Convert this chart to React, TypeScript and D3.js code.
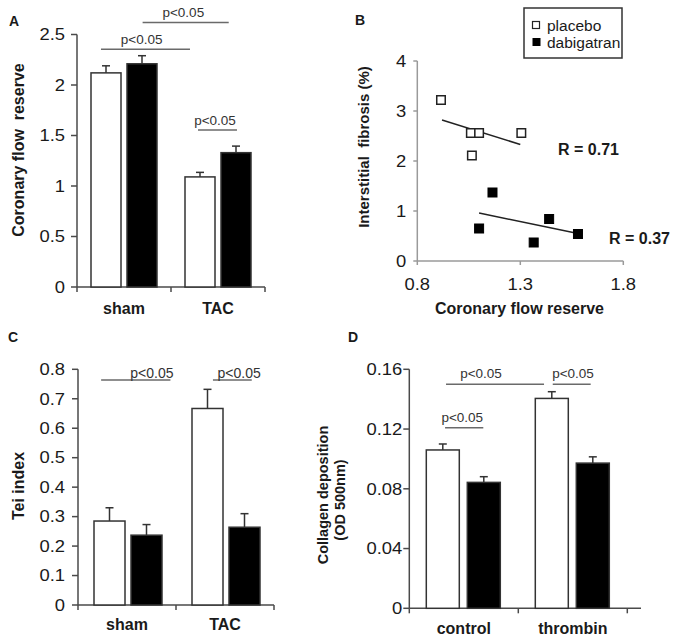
import React from 'react';
import * as d3 from 'd3';

const FONT = '"Liberation Sans", Arial, Helvetica, sans-serif';

// ---------- Panel A: Coronary flow reserve ----------
const aCategories = ['sham', 'TAC'];
const aPlacebo = [2.12, 1.09];
const aPlaceboErr = [0.07, 0.045];
const aDabi = [2.21, 1.33];
const aDabiErr = [0.08, 0.065];
const aTicks = [0, 0.5, 1, 1.5, 2, 2.5];
// brackets: x in category units, y in data units, tx = text centre
const aSigX1 = [0.255, 0.698, 1.287];
const aSigX2 = [1.202, 1.614, 1.702];
const aSigY = [2.355, 2.62, 1.555];
const aSigTx = [0.688, 1.131, 1.468];

// ---------- Panel B: scatter ----------
const bPlaceboX = [0.915, 1.06, 1.1, 1.065, 1.305];
const bPlaceboY = [3.22, 2.56, 2.56, 2.11, 2.56];
const bDabiX = [1.165, 1.1, 1.44, 1.365, 1.58];
const bDabiY = [1.37, 0.65, 0.84, 0.37, 0.54];
const bPlaceboFitX = [0.92, 1.3];
const bPlaceboFitY = [2.82, 2.33];
const bDabiFitX = [1.1, 1.58];
const bDabiFitY = [0.96, 0.55];
const bXTicks = [0.8, 1.3, 1.8];
const bYTicks = [0, 1, 2, 3, 4];
const bRLabels = ['R = 0.71', 'R = 0.37'];
const seriesNames = ['placebo', 'dabigatran'];

// ---------- Panel C: Tei index ----------
const cCategories = ['sham', 'TAC'];
const cPlacebo = [0.285, 0.667];
const cPlaceboErr = [0.045, 0.065];
const cDabi = [0.237, 0.264];
const cDabiErr = [0.036, 0.046];
const cTicks = [0, 0.1, 0.2, 0.3, 0.4, 0.5, 0.6, 0.7, 0.8];
const cSigX1 = [0.236, 1.377];
const cSigX2 = [0.943, 1.773];
const cSigY = [0.764, 0.764];
const cSigTx = [0.754, 1.644];

// ---------- Panel D: Collagen deposition ----------
const dCategories = ['control', 'thrombin'];
const dPlacebo = [0.106, 0.1405];
const dPlaceboErr = [0.004, 0.0045];
const dDabi = [0.0843, 0.0972];
const dDabiErr = [0.0038, 0.0042];
const dTicks = [0, 0.04, 0.08, 0.12, 0.16];
const dSigX1 = [0.337, 1.316, 0.328];
const dSigX2 = [1.236, 1.664, 0.679];
const dSigY = [0.15, 0.15, 0.1209];
const dSigTx = [0.658, 1.502, 0.486];

const AXIS = '#4a4a4a';
const TEXT = '#1a1a1a';
const SIG = '#6a6a6a';
const STRETCH = 1.15;

function TickText(props: { x: number; y: number; anchor: string; dy?: string; children: React.ReactNode }) {
  return (
    <g transform={`translate(${props.x},${props.y}) scale(${STRETCH},1)`}>
      <text x={0} y={0} dy={props.dy} textAnchor={props.anchor} fontSize={16} fill={TEXT} fontFamily={FONT}>
        {props.children}
      </text>
    </g>
  );
}

type BarPanelProps = {
  categories: string[];
  placebo: number[];
  placeboErr: number[];
  dabi: number[];
  dabiErr: number[];
  ticks: number[];
  tickFmt: (v: number) => string;
  yMax: number;
  x0: number;
  x1: number;
  axisEnd: number;
  y0: number;
  y1: number;
  inner: [number, number];
  paddingInner: number;
  sigX1: number[];
  sigX2: number[];
  sigY: number[];
  sigTx: number[];
  sigGap: number;
  sigSize: number;
  catBaseline: number;
  tickLabelGap: number;
};

function BarPanel(p: BarPanelProps) {
  const y = d3.scaleLinear().domain([0, p.yMax]).range([p.y0, p.y1]);
  const xb = d3.scaleBand<string>().domain(p.categories).range([p.x0, p.x1]);
  const xs = d3
    .scaleBand<string>()
    .domain(seriesNames)
    .range(p.inner)
    .paddingInner(p.paddingInner)
    .paddingOuter(0);
  const xu = d3.scaleLinear().domain([0, p.categories.length]).range([p.x0, p.x1]);
  const tickXs = d3.range(p.categories.length + 1).map((i) => xu(i));
  const bars: { x: number; v: number; e: number; fill: string }[] = [];
  p.categories.forEach((c, i) => {
    bars.push({ x: (xb(c) as number) + (xs('placebo') as number), v: p.placebo[i], e: p.placeboErr[i], fill: '#fff' });
    bars.push({ x: (xb(c) as number) + (xs('dabigatran') as number), v: p.dabi[i], e: p.dabiErr[i], fill: '#000' });
  });
  const bw = xs.bandwidth();
  return (
    <g>
      {/* y axis */}
      <line x1={p.x0} x2={p.x0} y1={y(0)} y2={y(p.yMax)} stroke={AXIS} strokeWidth={1.5} />
      {p.ticks.map((t) => (
        <g key={t}>
          <line x1={p.x0 - 6} x2={p.x0} y1={y(t)} y2={y(t)} stroke={AXIS} strokeWidth={1.5} />
          <TickText x={p.x0 - p.tickLabelGap} y={y(t)} dy="0.36em" anchor="end">
            {p.tickFmt(t)}
          </TickText>
        </g>
      ))}
      {/* x axis */}
      <line x1={p.x0} x2={p.axisEnd} y1={y(0)} y2={y(0)} stroke={AXIS} strokeWidth={1.5} />
      {tickXs.map((tx, i) => (
        <line key={i} x1={tx} x2={tx} y1={y(0)} y2={y(0) + 5} stroke={AXIS} strokeWidth={1.5} />
      ))}
      {/* bars */}
      {bars.map((b, i) => (
        <g key={i}>
          <line x1={b.x + bw / 2} x2={b.x + bw / 2} y1={y(b.v)} y2={y(b.v + b.e)} stroke="#333" strokeWidth={1.5} />
          <line x1={b.x + bw / 2 - 4} x2={b.x + bw / 2 + 4} y1={y(b.v + b.e)} y2={y(b.v + b.e)} stroke="#333" strokeWidth={1.5} />
          <rect x={b.x} y={y(b.v)} width={bw} height={y(0) - y(b.v)} fill={b.fill} stroke="#333" strokeWidth={1.5} />
        </g>
      ))}
      {/* significance */}
      {p.sigY.map((sy, i) => (
        <g key={i}>
          <line x1={xu(p.sigX1[i])} x2={xu(p.sigX2[i])} y1={y(sy)} y2={y(sy)} stroke={SIG} strokeWidth={1.5} />
          <text x={xu(p.sigTx[i])} y={y(sy) - p.sigGap} textAnchor="middle" fontSize={p.sigSize} fill="#333" fontFamily={FONT}>
            p&lt;0.05
          </text>
        </g>
      ))}
      {/* categories */}
      {p.categories.map((c) => (
        <text key={c} x={(xb(c) as number) + xb.bandwidth() / 2} y={p.catBaseline} textAnchor="middle" fontSize={16} fontWeight="bold" fill={TEXT} fontFamily={FONT}>
          {c}
        </text>
      ))}
    </g>
  );
}

function ScatterPanel() {
  const x = d3.scaleLinear().domain([0.8, 1.8]).range([417.3, 623.3]);
  const y = d3.scaleLinear().domain([0, 4]).range([261, 61]);
  const line = d3
    .line<[number, number]>()
    .x((d) => x(d[0]))
    .y((d) => y(d[1]));
  const pFit = bPlaceboFitX.map((v, i) => [v, bPlaceboFitY[i]] as [number, number]);
  const dFit = bDabiFitX.map((v, i) => [v, bDabiFitY[i]] as [number, number]);
  const B_AXIS = '#9a9a9a';
  const s = 8.5;
  return (
    <g>
      <line x1={x(0.8)} x2={x(0.8)} y1={y(0)} y2={y(4)} stroke={B_AXIS} strokeWidth={1.5} />
      {bYTicks.map((t) => (
        <g key={t}>
          <line x1={x(0.8) - 4} x2={x(0.8)} y1={y(t)} y2={y(t)} stroke={B_AXIS} strokeWidth={1.5} />
          <TickText x={x(0.8) - 11} y={y(t)} dy="0.36em" anchor="end">
            {t}
          </TickText>
        </g>
      ))}
      <line x1={x(0.8)} x2={x(1.8)} y1={y(0)} y2={y(0)} stroke={B_AXIS} strokeWidth={1.5} />
      {bXTicks.map((t) => (
        <g key={t}>
          <line x1={x(t)} x2={x(t)} y1={y(0)} y2={y(0) + 4} stroke={B_AXIS} strokeWidth={1.5} />
          <TickText x={x(t)} y={y(0) + 29} anchor="middle">
            {t}
          </TickText>
        </g>
      ))}
      <path d={line(pFit) || ''} stroke="#222" strokeWidth={1.5} fill="none" />
      <path d={line(dFit) || ''} stroke="#222" strokeWidth={1.5} fill="none" />
      {bPlaceboX.map((v, i) => (
        <rect key={'p' + i} x={x(v) - s / 2} y={y(bPlaceboY[i]) - s / 2} width={s} height={s} fill="#fff" stroke="#222" strokeWidth={1.5} />
      ))}
      {bDabiX.map((v, i) => (
        <rect key={'d' + i} x={x(v) - 4.5} y={y(bDabiY[i]) - 4.5} width={9} height={9} fill="#000" stroke="#000" strokeWidth={1} />
      ))}
      <text x={558} y={154.5} fontSize={16} fontWeight="bold" fill={TEXT} fontFamily={FONT}>
        {bRLabels[0]}
      </text>
      <text x={609} y={243.5} fontSize={16} fontWeight="bold" fill={TEXT} fontFamily={FONT}>
        {bRLabels[1]}
      </text>
      {/* legend */}
      <defs>
        <clipPath id="legclip">
          <rect x={524} y={8} width={98} height={50} />
        </clipPath>
      </defs>
      <rect x={524} y={8} width={98} height={50} fill="#fff" stroke="#333" strokeWidth={1.5} />
      <g clipPath="url(#legclip)">
        <rect x={532.5} y={21.5} width={7} height={7} fill="#fff" stroke="#222" strokeWidth={1.2} />
        <rect x={532.5} y={38} width={8} height={8} fill="#000" />
        <text x={547} y={25} dy="0.36em" fontSize={15.5} fill={TEXT} fontFamily={FONT}>
          {seriesNames[0]}
        </text>
        <text x={547} y={42} dy="0.36em" fontSize={15.5} fill={TEXT} fontFamily={FONT}>
          {seriesNames[1]}
        </text>
      </g>
      <text transform="translate(369,147) rotate(-90)" textAnchor="middle" fontSize={15} fontWeight="bold" fill={TEXT} fontFamily={FONT} style={{ whiteSpace: 'pre' }}>
        {'Interstitial  fibrosis (%)'}
      </text>
      <text x={519.5} y={314} textAnchor="middle" fontSize={16} fontWeight="bold" fill={TEXT} fontFamily={FONT}>
        Coronary flow reserve
      </text>
    </g>
  );
}

const fmt1 = (v: number) => (v === 0 ? '0' : d3.format('~g')(v));
const fmt2 = (v: number) => (v === 0 ? '0' : d3.format('.2f')(v));

export default function App() {
  return (
    <svg width={673} height={641} style={{ position: 'absolute', left: 0, top: 0, background: '#fff' }} fontFamily={FONT}>
      <rect x={0} y={0} width={673} height={641} fill="#fff" />
      {/* Panel letters */}
      <text x={9} y={26} fontSize={14} fontWeight="bold" fill={TEXT}>A</text>
      <text x={355} y={25} fontSize={14} fontWeight="bold" fill={TEXT}>B</text>
      <text x={8} y={342} fontSize={14} fontWeight="bold" fill={TEXT}>C</text>
      <text x={348} y={342} fontSize={14} fontWeight="bold" fill={TEXT}>D</text>

      <BarPanel
        categories={aCategories}
        placebo={aPlacebo}
        placeboErr={aPlaceboErr}
        dabi={aDabi}
        dabiErr={aDabiErr}
        ticks={aTicks}
        tickFmt={fmt1}
        yMax={2.5}
        x0={77}
        x1={265}
        axisEnd={265}
        y0={287}
        y1={34.5}
        inner={[14, 80]}
        paddingInner={6 / 36}
        sigX1={aSigX1}
        sigX2={aSigX2}
        sigY={aSigY}
        sigTx={aSigTx}
        sigGap={5}
        sigSize={13.5}
        catBaseline={314}
        tickLabelGap={12}
      />
      <text transform="translate(24,150) rotate(-90)" textAnchor="middle" fontSize={16} fontWeight="bold" fill={TEXT} style={{ whiteSpace: 'pre' }}>
        {'Coronary flow  reserve'}
      </text>

      <ScatterPanel />

      <BarPanel
        categories={cCategories}
        placebo={cPlacebo}
        placeboErr={cPlaceboErr}
        dabi={cDabi}
        dabiErr={cDabiErr}
        ticks={cTicks}
        tickFmt={fmt1}
        yMax={0.8}
        x0={78}
        x1={274}
        axisEnd={274}
        y0={605}
        y1={369.3}
        inner={[16, 84]}
        paddingInner={6 / 37}
        sigX1={cSigX1}
        sigX2={cSigX2}
        sigY={cSigY}
        sigTx={cSigTx}
        sigGap={1.5}
        sigSize={14}
        catBaseline={630}
        tickLabelGap={13}
      />
      <text transform="translate(24,486) rotate(-90)" textAnchor="middle" fontSize={16} fontWeight="bold" fill={TEXT}>
        Tei index
      </text>

      <BarPanel
        categories={dCategories}
        placebo={dPlacebo}
        placeboErr={dPlaceboErr}
        dabi={dDabi}
        dabiErr={dDabiErr}
        ticks={dTicks}
        tickFmt={fmt2}
        yMax={0.16}
        x0={409.3}
        x1={627.3}
        axisEnd={641}
        y0={608.3}
        y1={369.3}
        inner={[17, 91]}
        paddingInner={8 / 41}
        sigX1={dSigX1}
        sigX2={dSigX2}
        sigY={dSigY}
        sigTx={dSigTx}
        sigGap={6}
        sigSize={13.5}
        catBaseline={634}
        tickLabelGap={7}
      />
      <text transform="translate(328,495) rotate(-90)" textAnchor="middle" fontSize={14.5} fontWeight="bold" fill={TEXT}>
        Collagen deposition
      </text>
      <text transform="translate(345,500) rotate(-90)" textAnchor="middle" fontSize={14.5} fontWeight="bold" fill={TEXT}>
        (OD 500nm)
      </text>
    </svg>
  );
}
